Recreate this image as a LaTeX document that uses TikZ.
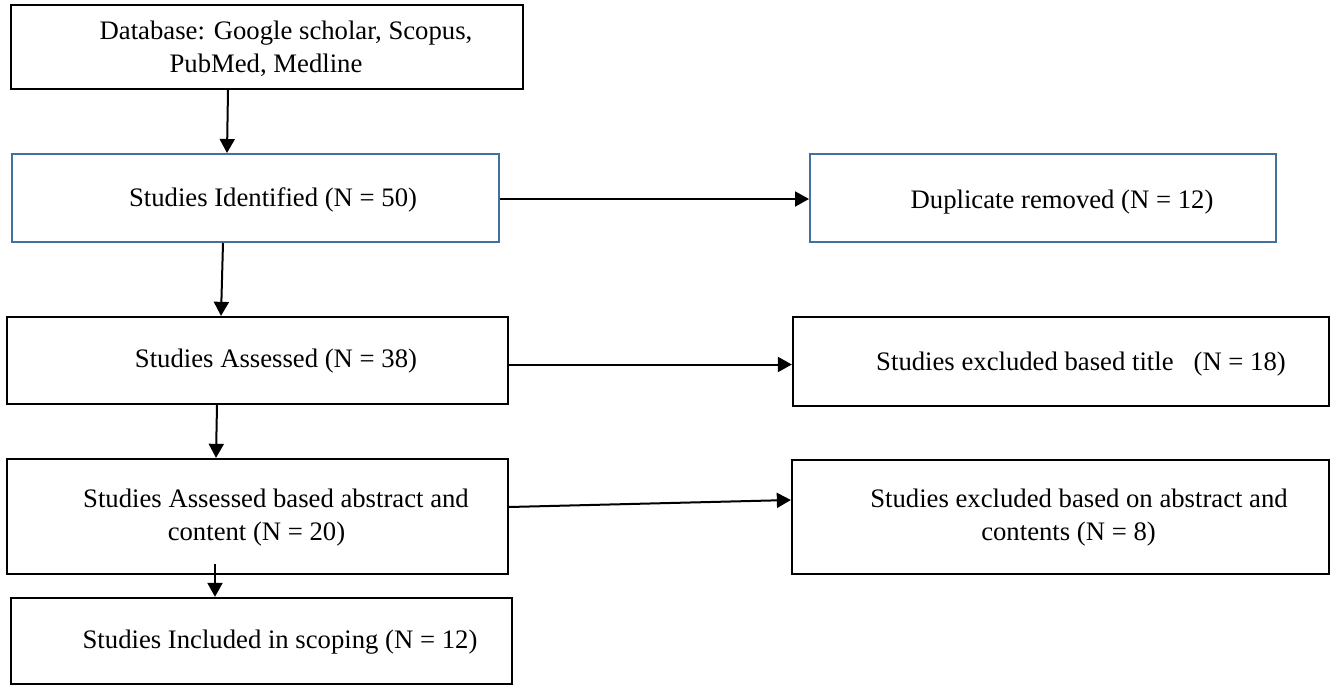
\documentclass[tikz,border=0pt]{standalone}
\usepackage{fontspec}
\setmainfont{Liberation Serif}
\usetikzlibrary{arrows.meta,calc}
\definecolor{boxblue}{RGB}{65,113,156}
\begin{document}
\begin{tikzpicture}[x=1pt,y=-1pt,
  blackbox/.style={draw=black,line width=2.3pt,rectangle,inner sep=0pt},
  bluebox/.style={draw=boxblue,line width=2pt,rectangle,inner sep=0pt},
  lbl/.style={inner sep=0pt,align=center,font=\fontsize{26.7}{33}\selectfont},
  arr/.style={line width=2pt,-{Triangle[length=14pt,width=15pt]}}]
\useasboundingbox (0,0) rectangle (1333,685);
% boxes
\node[blackbox,minimum width=512pt,minimum height=84pt] (b1) at (267,47) {};
\node[bluebox,minimum width=487pt,minimum height=88pt] (b2) at (255.5,198) {};
\node[bluebox,minimum width=466pt,minimum height=88pt] (b3) at (1043,198) {};
\node[blackbox,minimum width=501pt,minimum height=87pt] (b4) at (257.5,360.5) {};
\node[blackbox,minimum width=536pt,minimum height=89pt] (b5) at (1061,361.5) {};
\node[blackbox,minimum width=501pt,minimum height=115pt] (b6) at (257.5,516.5) {};
\node[blackbox,minimum width=537pt,minimum height=114pt] (b7) at (1060.5,517) {};
\node[blackbox,minimum width=501pt,minimum height=86pt] (b8) at (261.5,641) {};
% labels
\node[lbl] (t1) at (286,48.5) {Database: Google scholar, Scopus,\\PubMed, Medline\hspace*{40pt}};
\node[lbl] (t2) at (273,200) {Studies Identified (N = 50)};
\node[lbl] (t3) at (1062,202) {Duplicate removed (N = 12)};
\node[lbl] (t4) at (276,361) {Studies Assessed (N = 38)};
\node[lbl] (t5) at (1081,364) {Studies excluded based title~~~(N = 18)};
\node[lbl] (t6) at (276,517.5) {Studies Assessed based abstract and\\content (N = 20)\hspace*{39pt}};
\node[lbl] (t7) at (1079,517.5) {Studies excluded based on abstract and\\contents (N = 8)\hspace*{21pt}};
\node[lbl] (t8) at (280,642) {Studies Included in scoping (N = 12)};
% connectors
\draw[arr] ($(b1.south)+(-39,0)$) -- ($(b2.north)+(-28.5,0)$);
\draw[arr] ($(b2.east)+(0,1)$) -- ($(b3.west)+(0,1)$);
\draw[arr] ($(b2.south)+(-32.5,0)$) -- ($(b4.north)+(-36.5,0)$);
\draw[arr] ($(b4.east)+(0,4)$) -- ($(b5.west)+(0,3)$);
\draw[arr] ($(b4.south)+(-40.5,0)$) -- ($(b6.north)+(-41.5,0)$);
\draw[arr] ($(b6.east)+(0,-9.5)$) -- ($(b7.west)+(0,-17)$);
\draw[arr] ($(b6.south)+(-42.5,-11)$) -- ($(b8.north)+(-46.5,0)$);
\end{tikzpicture}
\end{document}
